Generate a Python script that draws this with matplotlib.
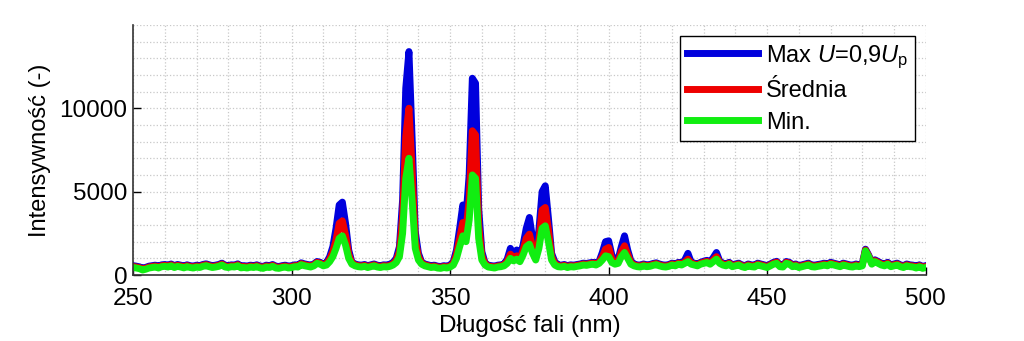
import numpy as np
import matplotlib
matplotlib.use("Agg")
import matplotlib.pyplot as plt
from matplotlib.ticker import MultipleLocator

plt.rcParams['font.family'] = ['Liberation Sans', 'DejaVu Sans']
plt.rcParams['mathtext.fontset'] = 'custom'
plt.rcParams['mathtext.rm'] = 'Liberation Sans'
plt.rcParams['mathtext.it'] = 'Liberation Sans:italic'

# wavelength grid, 1 nm
wavelength = np.arange(250, 501)

# Min. spectrum
i_min = [
    450, 420, 380, 300, 350, 420, 450, 480, 420, 500,
    520, 480, 550, 450, 520, 480, 430, 500, 450, 420,
    480, 450, 520, 560, 500, 450, 480, 520, 600, 480,
    450, 500, 480, 560, 430, 450, 420, 480, 450, 500,
    430, 400, 480, 450, 520, 420, 400, 450, 480, 420,
    450, 500, 480, 620, 560, 520, 480, 550, 700, 650,
    550, 600, 800, 1100, 1600, 2200, 2350, 1800, 1000, 650,
    550, 500, 480, 520, 450, 500, 550, 480, 450, 500,
    480, 520, 600, 750, 1100, 2500, 5800, 7000, 4500, 1600,
    900, 650, 550, 500, 450, 480, 420, 400, 450, 420,
    480, 600, 1000, 1700, 2350, 2000, 3300, 6000, 5800, 2200,
    900, 600, 480, 450, 420, 480, 500, 550, 700, 1000,
    850, 950, 800, 1200, 1700, 1850, 1300, 900, 1600, 2800,
    2950, 2000, 900, 600, 500, 480, 520, 450, 500, 480,
    520, 550, 600, 580, 620, 650, 600, 700, 900, 1150,
    1100, 750, 650, 700, 1100, 1350, 1000, 650, 550, 500,
    480, 550, 500, 520, 580, 620, 550, 500, 480, 520,
    600, 550, 650, 600, 700, 800, 650, 600, 550, 650,
    700, 750, 650, 800, 950, 700, 600, 550, 650, 500,
    550, 600, 500, 450, 550, 500, 480, 600, 550, 500,
    450, 550, 650, 700, 500, 480, 700, 650, 500, 550,
    450, 500, 550, 600, 500, 480, 520, 550, 600, 550,
    650, 600, 550, 500, 600, 550, 500, 480, 550, 500,
    550, 1450, 1100, 650, 800, 700, 600, 550, 650, 500,
    550, 600, 500, 450, 550, 500, 480, 420, 500, 400,
    450,
]

# Srednia (mean) spectrum
i_mean = [
    510, 480, 440, 360, 410, 480, 510, 540, 480, 560,
    580, 540, 610, 510, 580, 540, 490, 560, 510, 480,
    540, 510, 580, 620, 560, 510, 540, 580, 660, 540,
    510, 560, 540, 620, 490, 510, 480, 540, 510, 560,
    490, 460, 540, 510, 580, 480, 460, 510, 540, 480,
    510, 560, 540, 680, 620, 580, 540, 610, 760, 710,
    600, 680, 950, 1400, 2100, 3100, 3250, 2400, 1250, 720,
    610, 560, 540, 580, 510, 560, 610, 540, 510, 560,
    540, 580, 680, 880, 1400, 3500, 8300, 10000, 6300, 2100,
    1100, 720, 610, 560, 510, 540, 480, 460, 510, 480,
    540, 700, 1250, 2200, 3150, 2700, 4500, 8650, 8400, 3000,
    1150, 680, 540, 510, 480, 540, 560, 610, 820, 1250,
    1000, 1150, 950, 1500, 2200, 2450, 1700, 1100, 2100, 3900,
    4050, 2700, 1100, 700, 560, 540, 580, 510, 560, 540,
    580, 610, 660, 640, 680, 710, 660, 770, 1100, 1550,
    1650, 950, 750, 820, 1400, 1750, 1250, 750, 610, 560,
    540, 610, 560, 580, 640, 680, 610, 560, 540, 580,
    660, 610, 710, 660, 780, 950, 720, 660, 610, 710,
    770, 820, 720, 900, 1100, 780, 660, 610, 710, 560,
    610, 660, 560, 510, 610, 560, 540, 660, 610, 560,
    510, 610, 710, 770, 560, 540, 760, 710, 560, 610,
    510, 560, 610, 660, 560, 540, 580, 610, 660, 610,
    710, 660, 610, 560, 660, 610, 560, 540, 610, 560,
    610, 1500, 1150, 710, 860, 760, 660, 610, 710, 560,
    610, 660, 560, 510, 610, 560, 540, 480, 560, 460,
    510,
]

# Max U=0,9Up spectrum
i_max = [
    560, 530, 490, 410, 460, 530, 560, 590, 530, 610,
    630, 590, 660, 560, 630, 590, 540, 610, 560, 530,
    590, 560, 630, 670, 610, 560, 590, 630, 710, 590,
    560, 610, 590, 670, 540, 560, 530, 590, 560, 610,
    540, 510, 590, 560, 630, 530, 510, 560, 590, 530,
    560, 610, 590, 730, 670, 630, 590, 660, 810, 760,
    650, 750, 1100, 1700, 2800, 4200, 4370, 3100, 1500, 780,
    660, 610, 590, 630, 560, 610, 660, 590, 560, 610,
    600, 650, 760, 1000, 1700, 4500, 11200, 13400, 8200, 2600,
    1300, 780, 660, 610, 560, 590, 530, 510, 560, 530,
    600, 800, 1500, 2800, 4200, 3500, 6000, 11800, 11500, 4000,
    1400, 740, 590, 560, 530, 590, 610, 660, 950, 1600,
    1200, 1500, 1100, 1800, 2800, 3450, 2200, 1300, 2700, 5000,
    5350, 3400, 1300, 800, 610, 590, 630, 560, 610, 590,
    630, 660, 710, 690, 730, 760, 710, 830, 1350, 2000,
    2050, 1200, 850, 950, 1700, 2350, 1500, 850, 660, 610,
    590, 660, 610, 630, 690, 730, 660, 610, 590, 630,
    710, 660, 760, 710, 900, 1300, 780, 710, 660, 760,
    830, 880, 780, 1050, 1350, 850, 710, 660, 760, 610,
    660, 710, 610, 560, 660, 610, 590, 710, 660, 610,
    560, 660, 760, 820, 610, 590, 810, 760, 610, 660,
    560, 610, 660, 710, 610, 590, 630, 660, 710, 660,
    760, 710, 660, 610, 710, 660, 610, 590, 660, 610,
    660, 1550, 1200, 760, 910, 810, 710, 660, 760, 610,
    660, 710, 610, 560, 660, 610, 590, 530, 610, 510,
    560,
]

fig = plt.figure(figsize=(10.24, 3.41), dpi=100)
ax = fig.add_axes([0.130, 0.1935, 0.774, 0.7335])

lw = 5.0
ax.plot(wavelength, i_max, color='#0000dd', lw=lw, label='Max $U$=0,9$U_\\mathrm{p}$')
ax.plot(wavelength, i_mean, color='#ee0000', lw=lw, label='Średnia')
ax.plot(wavelength, i_min, color='#11ee11', lw=lw, label='Min.')

ax.set_xlim(250, 500)
ax.set_ylim(0, 15000)
ax.set_xticks([250, 300, 350, 400, 450, 500])
ax.set_yticks([0, 5000, 10000])
ax.xaxis.set_minor_locator(MultipleLocator(10))
ax.yaxis.set_minor_locator(MultipleLocator(1000))
ax.grid(True, which='both', color='#c8c8c8', linestyle=':', linewidth=0.9)
ax.set_axisbelow(True)
ax.tick_params(which='major', direction='in', length=6, width=1, labelsize=17.5)
ax.tick_params(which='minor', length=0)
ax.tick_params(axis='x', pad=9)
ax.tick_params(axis='y', pad=4)
for s in ['top', 'right']:
    ax.spines[s].set_visible(False)
for s in ['left', 'bottom']:
    ax.spines[s].set_linewidth(1.2)
    ax.spines[s].set_color('#333333')

ax.set_xlabel('Długość fali (nm)', fontsize=17.5, labelpad=4)
ax.set_ylabel('Intensywność (-)', fontsize=17, labelpad=6)

leg = ax.legend(loc='upper right', bbox_to_anchor=(0.987, 0.955), fontsize=17,
                frameon=True, fancybox=False, edgecolor='black', framealpha=1,
                handlelength=3.0, handletextpad=0.35, borderpad=0.3,
                labelspacing=0.4, borderaxespad=0)
leg.get_frame().set_linewidth(1.0)
for line in leg.get_lines():
    line.set_linewidth(5)

fig.savefig('out.png', dpi=100)
